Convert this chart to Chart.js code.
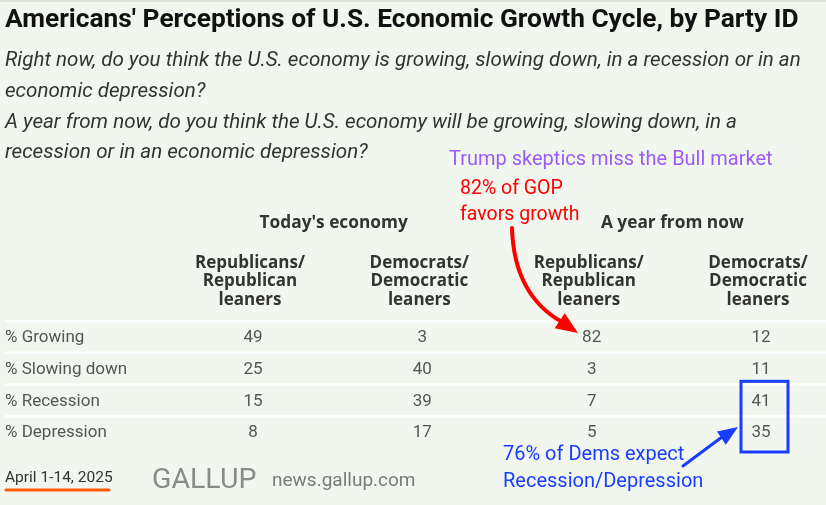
<!DOCTYPE html>
<html>
<head>
<meta charset="utf-8">
<title>Americans' Perceptions of U.S. Economic Growth Cycle, by Party ID</title>
<script src="https://cdn.jsdelivr.net/npm/chart.js@4.4.1/dist/chart.umd.min.js"></script>
<style>
    html, body { margin: 0; padding: 0; background: #f1f7ef; }
    #wrap { width: 826px; height: 505px; position: relative; }
</style>
</head>
<body>
<div id="wrap"><canvas id="gallupTable" width="826" height="505"></canvas></div>
<script>
var titleText = "Americans' Perceptions of U.S. Economic Growth Cycle, by Party ID";
var questionLines = [
    'Right now, do you think the U.S. economy is growing, slowing down, in a recession or in an',
    'economic depression?',
    'A year from now, do you think the U.S. economy will be growing, slowing down, in a',
    'recession or in an economic depression?'
];
var groupLabels = ["Today's economy", 'A year from now'];
var columnKeys = ['todayRep', 'todayDem', 'yearRep', 'yearDem'];
var columnLabels = [
    ['Republicans/', 'Republican', 'leaners'],
    ['Democrats/', 'Democratic', 'leaners'],
    ['Republicans/', 'Republican', 'leaners'],
    ['Democrats/', 'Democratic', 'leaners']
];
var rowLabels = ['% Growing', '% Slowing down', '% Recession', '% Depression'];
var todayRep = [49, 25, 15, 8];
var todayDem = [3, 40, 39, 17];
var yearRep = [82, 3, 7, 5];
var yearDem = [12, 11, 41, 35];
var dateLabel = 'April 1-14, 2025';

(function () {
    var FONT = 'Roboto, "Liberation Sans", sans-serif';
    var HEAD = '"Open Sans", Roboto, sans-serif';
    var seriesByKey = { todayRep: todayRep, todayDem: todayDem, yearRep: yearRep, yearDem: yearDem };

    function cellData(key) {
        return seriesByKey[key].map(function (v, i) {
            return { x: key, y: rowLabels[i], v: v };
        });
    }

    function text(ctx, str, x, y, font, color, align) {
        ctx.font = font;
        ctx.fillStyle = color;
        ctx.textAlign = align || 'left';
        ctx.textBaseline = 'middle';
        ctx.fillText(str, x, y);
    }

    function arrowHead(ctx, tipX, tipY, angle, len, half, color) {
        ctx.save();
        ctx.translate(tipX, tipY);
        ctx.rotate(angle);
        ctx.beginPath();
        ctx.moveTo(0, 0);
        ctx.lineTo(-len, -half);
        ctx.lineTo(-len, half);
        ctx.closePath();
        ctx.fillStyle = color;
        ctx.fill();
        ctx.restore();
    }

    var tablePlugin = {
        id: 'tablePlugin',
        beforeDraw: function (chart) {
            var ctx = chart.ctx;
            ctx.save();
            ctx.fillStyle = '#f1f7ef';
            ctx.fillRect(0, 0, chart.width, chart.height);
            ctx.fillStyle = '#dde3db';
            ctx.fillRect(0, 0, chart.width, 2);
            ctx.restore();
        },
        afterDatasetsDraw: function (chart) {
            var ctx = chart.ctx;
            var xs = chart.scales.x;
            var ys = chart.scales.y;
            var step = ys.getPixelForValue(1) - ys.getPixelForValue(0);
            ctx.save();

            // title and questions
            text(ctx, titleText, 5, 20, 'bold 26.3px ' + FONT, '#111');
            questionLines.forEach(function (line, i) {
                text(ctx, line, 5, 61 + i * 30.7, 'italic 20.6px ' + FONT, '#333');
            });

            // white row separators
            ctx.strokeStyle = '#ffffff';
            ctx.lineWidth = 2.5;
            rowLabels.forEach(function (r, i) {
                var yy = ys.getPixelForValue(i) - step / 2;
                ctx.beginPath();
                ctx.moveTo(5, yy);
                ctx.lineTo(chart.width, yy);
                ctx.stroke();
            });

            // group headers and column headers
            groupLabels.forEach(function (g, gi) {
                var cx = (xs.getPixelForValue(gi * 2) + xs.getPixelForValue(gi * 2 + 1)) / 2;
                text(ctx, g, cx - 4, 223, 'bold 17.3px ' + HEAD, '#333', 'center');
            });
            columnLabels.forEach(function (lines, ci) {
                var cx = xs.getPixelForValue(ci);
                lines.forEach(function (l, li) {
                    text(ctx, l, cx - 3, 263 + li * 18.5, 'bold 17px ' + HEAD, '#333', 'center');
                });
            });

            // row labels
            rowLabels.forEach(function (r, i) {
                text(ctx, r, 5, ys.getPixelForValue(i) + 1, '17px ' + FONT, '#555');
            });

            // cell values
            chart.data.datasets.forEach(function (ds, di) {
                chart.getDatasetMeta(di).data.forEach(function (pt, pi) {
                    text(ctx, String(ds.data[pi].v), pt.x, pt.y + 1, '17px ' + FONT, '#555', 'center');
                });
            });

            // footer
            text(ctx, dateLabel, 5, 478, '15.5px ' + FONT, '#333');
            ctx.strokeStyle = '#ff5a00';
            ctx.lineWidth = 3;
            ctx.lineCap = 'round';
            ctx.beginPath();
            ctx.moveTo(6, 490);
            ctx.lineTo(109, 490);
            ctx.stroke();
            text(ctx, 'GALLUP', 152, 481, '28.5px ' + FONT, '#8a8a8a');
            text(ctx, 'news.gallup.com', 272, 481, '19px ' + FONT, '#7a7a7a');

            // annotations
            text(ctx, 'Trump skeptics miss the Bull market', 449, 160, '20px ' + FONT, '#9b5cf6');
            text(ctx, '82% of GOP', 460, 189, '19.5px ' + FONT, '#ff0000');
            text(ctx, 'favors growth', 460, 215, '19.5px ' + FONT, '#ff0000');

            ctx.strokeStyle = '#ff0000';
            ctx.lineWidth = 4;
            ctx.lineCap = 'round';
            ctx.beginPath();
            ctx.moveTo(512, 228);
            ctx.quadraticCurveTo(514, 295, 562, 322);
            ctx.stroke();
            arrowHead(ctx, 578, 333, Math.atan2(12, 18), 22, 9, '#ff0000');

            var bx = xs.getPixelForValue(3);
            ctx.strokeStyle = '#1a3cff';
            ctx.lineWidth = 3;
            ctx.lineCap = 'butt';
            ctx.strokeRect(bx - 20, ys.getPixelForValue(2) - 19, 47, ys.getPixelForValue(3) - ys.getPixelForValue(2) + 39);

            text(ctx, '76% of Dems expect', 503, 455, '20px ' + FONT, '#1a3cff');
            text(ctx, 'Recession/Depression', 503, 482, '20px ' + FONT, '#1a3cff');
            ctx.lineWidth = 3;
            ctx.lineCap = 'round';
            ctx.beginPath();
            ctx.moveTo(683, 466);
            ctx.lineTo(722, 437);
            ctx.stroke();
            arrowHead(ctx, 738, 427, Math.atan2(-38, 57), 20, 8, '#1a3cff');

            ctx.restore();
        }
    };

    function buildTable(id) {
        var canvas = document.getElementById(id);
        if (!canvas || typeof Chart === 'undefined') {
            return;
        }

        new Chart(canvas, {
            type: 'scatter',
            data: {
                datasets: columnKeys.map(function (key) {
                    return { label: key, data: cellData(key), pointRadius: 0, pointHoverRadius: 0 };
                })
            },
            options: {
                responsive: false,
                animation: false,
                events: [],
                layout: { padding: { left: 253, right: 65, top: 337, bottom: 73 } },
                scales: {
                    x: { type: 'category', labels: columnKeys, offset: false, display: false },
                    y: { type: 'category', labels: rowLabels, offset: false, display: false }
                },
                plugins: { legend: { display: false }, tooltip: { enabled: false } }
            },
            plugins: [tablePlugin]
        });
    }

    buildTable('gallupTable');
})();
</script>
</body>
</html>
